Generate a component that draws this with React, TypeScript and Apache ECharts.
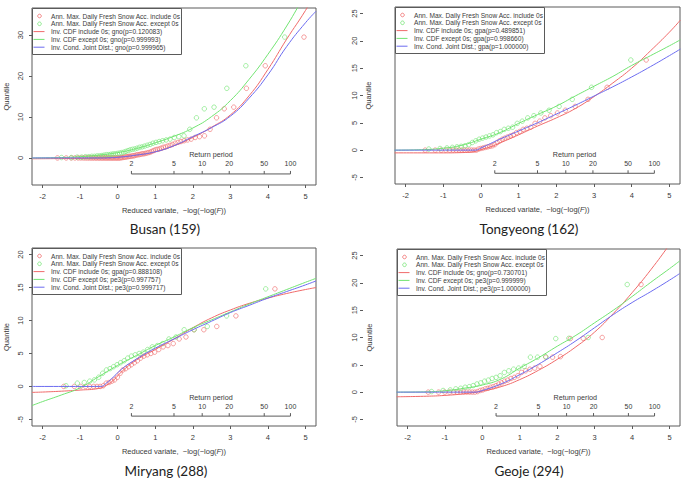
import React, { useEffect, useRef } from "react";
import * as echarts from "echarts";

// ---- shared axis values ----
const xTicks = [-2, -1, 0, 1, 2, 3, 4, 5];
const returnPeriods = [2, 5, 10, 20, 50, 100];

// ---- Busan (159) ----
const busanZeroYears = 32;
const busanSnow = [
  0.1, 0.1, 0.2, 0.2, 0.3, 0.3, 0.4, 0.4, 0.5, 0.5,
  0.6, 0.7, 0.8, 0.8, 0.9, 1.0, 1.0, 1.1, 1.2, 1.3,
  1.4, 1.6, 1.8, 2.0, 2.1, 2.2, 2.4, 2.6, 2.7, 2.9,
  3.1, 3.3, 3.6, 3.8, 4.0, 4.2, 4.4, 4.6, 5.0, 5.2,
  5.4, 7.0, 9.8, 12.0, 12.4, 17.0, 22.5, 29.5,
];
const busanFitInclude = [
  [-2.28, -0.2], [-1.5, -0.15], [-1, -0.1], [-0.5, 0.0], [0, 0.2], [0.5, 0.7], [1, 1.5], [1.5, 3.0],
  [2, 5.0], [2.5, 7.5], [3, 10.5], [3.5, 15.2], [4, 21.6], [4.5, 29.0], [5, 36.0], [5.28, 40.5],
];
const busanFitExcept = [
  [-2.28, 0.0], [-1.5, 0.1], [-1, 0.3], [-0.5, 0.7], [0, 1.3], [0.5, 2.3], [1, 3.7], [1.5, 5.3],
  [2, 7.3], [2.5, 10.1], [3, 14.0], [3.5, 19.2], [4, 25.3], [4.5, 32.2], [5, 40.0], [5.28, 44.0],
];
const busanFitJoint = [
  [-2.28, 0], [-0.4, 0], [-0.2, 0.05], [0, 0.15], [0.5, 0.7], [1, 1.5], [1.5, 3.0], [2, 5.2],
  [2.5, 7.4], [3, 10.2], [3.5, 14.6], [4, 20.3], [4.5, 27.2], [5, 33.0], [5.28, 35.8],
];
const busanYTicks = [0, 10, 20, 30];
const busanLegend = [
  "Ann. Max. Daily Fresh Snow Acc. include 0s",
  "Ann. Max. Daily Fresh Snow Acc. except 0s",
  "Inv. CDF include 0s; gno(p=0.120083)",
  "Inv. CDF except 0s; gno(p=0.999993)",
  "Inv. Cond. Joint Dist.; gno(p=0.999965)",
];

// ---- Tongyeong (162) ----
const tongyeongZeroYears = 15;
const tongyeongSnow = [
  0.2, 0.3, 0.4, 0.5, 0.6, 0.7, 0.8, 1.0, 1.4, 1.7,
  2.0, 2.2, 2.4, 2.6, 2.8, 3.2, 3.4, 3.8, 4.0, 4.2,
  4.9, 5.3, 5.9, 6.3, 6.8, 7.3, 8.0, 9.3, 11.5, 16.5,
];
const tongyeongFitInclude = [
  [-2.29, -0.5], [-1, -0.5], [-0.5, -0.45], [-0.2, -0.3], [0, 0.1], [0.25, 0.6], [0.5, 1.3], [1, 2.8],
  [1.5, 4.4], [2, 5.9], [2.5, 7.6], [3, 9.8], [3.5, 12.3], [4, 15.0], [4.5, 18.2], [5, 21.6], [5.29, 23.8],
];
const tongyeongFitExcept = [
  [-2.29, 0.0], [-1.5, 0.1], [-1, 0.35], [-0.5, 0.9], [0, 2.0], [0.5, 3.2], [1, 4.9], [1.5, 6.5],
  [2, 8.05], [2.5, 9.9], [3, 11.7], [3.5, 13.5], [4, 15.5], [4.5, 17.3], [5, 19.1], [5.29, 20.2],
];
const tongyeongFitJoint = [
  [-2.29, 0], [-0.15, 0], [0, 0.4], [0.5, 2.0], [1, 3.5], [1.5, 5.0], [2, 6.6], [2.5, 8.2],
  [3, 9.9], [3.5, 11.6], [4, 13.4], [4.5, 15.3], [5, 17.3], [5.29, 18.5],
];
const tongyeongYTicks = [-5, 0, 5, 10, 15, 20, 25];
const tongyeongLegend = [
  "Ann. Max. Daily Fresh Snow Acc. include 0s",
  "Ann. Max. Daily Fresh Snow Acc. except 0s",
  "Inv. CDF include 0s; gpa(p=0.489851)",
  "Inv. CDF except 0s; gpa(p=0.998660)",
  "Inv. Cond. Joint Dist.; gpa(p=1.000000)",
];

// ---- Miryang (288) ----
const miryangZeroYears = 8;
const miryangSnow = [
  0.1, 0.5, 0.6, 0.8, 1.0, 1.4, 2.0, 2.5, 2.7, 3.0,
  3.3, 3.6, 3.9, 4.3, 4.6, 4.8, 5.0, 5.2, 5.6, 6.0,
  6.2, 6.5, 7.2, 7.5, 8.6, 8.6, 9.1, 10.7, 14.8,
];
const miryangFitInclude = [
  [-2.28, -0.9], [-2, -0.85], [-1.5, -0.72], [-1, -0.55], [-0.5, -0.3], [-0.3, 0.2], [-0.1, 1.0],
  [0.1, 2.2], [0.5, 4.0], [1, 5.6], [1.5, 7.2], [2, 8.9], [2.5, 10.4], [3, 11.6], [3.5, 12.6],
  [4, 13.4], [4.5, 14.1], [5, 14.7], [5.28, 15.0],
];
const miryangFitExcept = [
  [-2.28, -2.9], [-2, -2.3], [-1.5, -1.3], [-1, -0.2], [-0.5, 1.5], [0, 3.2], [0.5, 4.7], [1, 6.2],
  [1.5, 7.5], [2, 8.9], [2.5, 10.1], [3, 11.3], [3.5, 12.5], [4, 13.6], [4.5, 14.7], [5, 15.8], [5.28, 16.4],
];
const miryangFitJoint = [
  [-2.28, 0], [-0.45, 0], [-0.3, 0.5], [-0.1, 1.5], [0.1, 2.6], [0.4, 3.8], [1, 5.8], [1.5, 7.2],
  [2, 8.6], [2.5, 9.9], [3, 11.2], [3.5, 12.3], [4, 13.4], [4.5, 14.4], [5, 15.4], [5.28, 16.0],
];
const miryangYTicks = [-5, 0, 5, 10, 15, 20];
const miryangLegend = [
  "Ann. Max. Daily Fresh Snow Acc. include 0s",
  "Ann. Max. Daily Fresh Snow Acc. except 0s",
  "Inv. CDF include 0s; gpa(p=0.888108)",
  "Inv. CDF except 0s; pe3(p=0.997757)",
  "Inv. Cond. Joint Dist.; pe3(p=0.999717)",
];

// ---- Geoje (294) ----
const geojeZeroYears = 12;
const geojeSnow = [
  0.1, 0.3, 0.4, 0.6, 0.7, 0.9, 1.0, 1.2, 1.5, 1.7,
  2.0, 2.2, 2.5, 2.7, 3.0, 3.6, 3.9, 4.2, 4.4, 4.7,
  6.4, 6.4, 6.5, 9.8, 9.85, 10.0, 19.7,
];
const geojeFitInclude = [
  [-2.29, -0.85], [-1.5, -0.75], [-1, -0.6], [-0.5, -0.3], [0, 0.2], [0.5, 1.0], [1, 2.3], [1.5, 4.0],
  [2, 6.0], [2.5, 8.3], [3, 11.0], [3.5, 14.4], [4, 18.2], [4.5, 22.4], [5, 27.0], [5.27, 29.6],
];
const geojeFitExcept = [
  [-2.29, 0.0], [-1.5, 0.05], [-1, 0.25], [-0.5, 0.7], [0, 1.3], [0.5, 2.4], [1, 4.4], [1.5, 6.3],
  [2, 8.4], [2.5, 10.4], [3, 12.7], [3.5, 15.0], [4, 17.5], [4.5, 20.1], [5, 22.6], [5.27, 24.0],
];
const geojeFitJoint = [
  [-2.29, 0], [-0.2, 0], [0, 0.3], [0.5, 1.5], [1, 3.2], [1.5, 5.1], [2, 7.2], [2.5, 9.4],
  [3, 11.8], [3.5, 14.2], [4, 16.4], [4.5, 18.4], [5, 20.5], [5.27, 21.7],
];
const geojeYTicks = [-5, 0, 5, 10, 15, 20, 25];
const geojeLegend = [
  "Ann. Max. Daily Fresh Snow Acc. include 0s",
  "Ann. Max. Daily Fresh Snow Acc. except 0s",
  "Inv. CDF include 0s; gno(p=0.730701)",
  "Inv. CDF except 0s; pe3(p=0.999999)",
  "Inv. Cond. Joint Dist.; pe3(p=1.000000)",
];

// ---- styling ----
const FONT = '"Liberation Sans", Arial, Helvetica, sans-serif';
const CAPTION_FONT = 'Lato, "Noto Sans", sans-serif';
const RED = "#f06a6a";
const GREEN = "#72e472";
const BLUE = "#6c6cf0";
const FRAME = "#5a5a5a";
const TEXT = "#3a3a3a";

const stations = [
  {
    caption: "Busan (159)", zeros: busanZeroYears, snow: busanSnow,
    fits: [busanFitInclude, busanFitExcept, busanFitJoint], legend: busanLegend,
    yMin: -6.6, yMax: 36.6, yTicks: busanYTicks, rpLevel: -3.9,
    box: { left: 32, top: 8, width: 284, height: 177 }, yOffset: 0, titleX: 6,
    capX: 165, capY: 229,
  },
  {
    caption: "Tongyeong (162)", zeros: tongyeongZeroYears, snow: tongyeongSnow,
    fits: [tongyeongFitInclude, tongyeongFitExcept, tongyeongFitJoint], legend: tongyeongLegend,
    yMin: -6.2, yMax: 26.2, yTicks: tongyeongYTicks, rpLevel: -4.24,
    box: { left: 395, top: 7, width: 285, height: 177 }, yOffset: 32, titleX: 368,
    capX: 529, capY: 229,
  },
  {
    caption: "Miryang (288)", zeros: miryangZeroYears, snow: miryangSnow,
    fits: [miryangFitInclude, miryangFitExcept, miryangFitJoint], legend: miryangLegend,
    yMin: -6, yMax: 21, yTicks: miryangYTicks, rpLevel: -4.5,
    box: { left: 32, top: 248, width: 284, height: 178 }, yOffset: 0, titleX: 6,
    capX: 166, capY: 471,
  },
  {
    caption: "Geoje (294)", zeros: geojeZeroYears, snow: geojeSnow,
    fits: [geojeFitInclude, geojeFitExcept, geojeFitJoint], legend: geojeLegend,
    yMin: -6.2, yMax: 26.2, yTicks: geojeYTicks, rpLevel: -4.38,
    box: { left: 397, top: 249, width: 283, height: 177 }, yOffset: 34, titleX: 369,
    capX: 529, capY: 471,
  },
];

// Gringorten plotting position expressed as a Gumbel reduced variate
function reducedVariate(rank: number, n: number): number {
  const F = (rank - 0.44) / (n + 0.12);
  return -Math.log(-Math.log(F));
}

// Reduced variate of a return period T (years)
function returnPeriodVariate(T: number): number {
  return -Math.log(-Math.log(1 - 1 / T));
}

function samplePoints(zeros: number, values: number[]): number[][] {
  const sample = [...new Array(zeros).fill(0), ...values];
  return sample.map((v, i) => [reducedVariate(i + 1, sample.length), v]);
}

function legendGroup(box: { left: number; top: number }, labels: string[]) {
  const colors = [RED, GREEN, RED, GREEN, BLUE];
  const children: any[] = [
    {
      type: "rect",
      shape: { x: 0.5, y: 0.5, width: 149, height: 46 },
      style: { fill: "#fff", stroke: FRAME, lineWidth: 1 },
    },
  ];
  labels.forEach((label, k) => {
    const cy = 8 + k * 7.8;
    if (k < 2) {
      children.push({
        type: "circle",
        shape: { cx: 7.5, cy, r: 1.8 },
        style: { fill: "none", stroke: colors[k], lineWidth: 0.8 },
      });
    } else {
      children.push({
        type: "line",
        shape: { x1: 1.5, y1: cy, x2: 12.5, y2: cy },
        style: { stroke: colors[k], lineWidth: 1 },
      });
    }
    children.push({
      type: "text",
      x: 19,
      y: cy,
      style: {
        text: label, fontSize: 6.6, fontFamily: FONT, fill: TEXT,
        verticalAlign: "middle", align: "left",
      },
    });
  });
  return { type: "group", x: box.left, y: box.top, z: 100, children };
}

function buildOption() {
  const grid: any[] = [];
  const xAxis: any[] = [];
  const yAxis: any[] = [];
  const series: any[] = [];
  const graphic: any[] = [];

  stations.forEach((st, i) => {
    grid.push({
      ...st.box,
      show: true,
      borderColor: FRAME,
      borderWidth: 1,
      backgroundColor: "transparent",
    });
    xAxis.push({
      type: "value",
      gridIndex: i,
      min: -2.28,
      max: 5.28,
      axisLine: { show: false, onZero: false },
      splitLine: { show: false },
      axisTick: { show: true, length: 3, customValues: xTicks, lineStyle: { color: FRAME } },
      axisLabel: { customValues: xTicks, fontSize: 7.5, fontFamily: FONT, color: TEXT, margin: 7 },
      name: "Reduced variate,  \u2212log(\u2212log({i|F}))",
      nameLocation: "middle",
      nameGap: 21,
      nameTextStyle: {
        fontSize: 7.5, fontFamily: FONT, color: TEXT,
        rich: { i: { fontStyle: "italic", fontSize: 7.5, fontFamily: FONT, color: TEXT } },
      },
    });
    yAxis.push({
      type: "value",
      gridIndex: i,
      min: st.yMin,
      max: st.yMax,
      offset: st.yOffset,
      axisLine: { show: false, onZero: false },
      splitLine: { show: false },
      axisTick: { show: true, length: 3, customValues: st.yTicks, lineStyle: { color: FRAME } },
      axisLabel: {
        customValues: st.yTicks, rotate: 90, fontSize: 7.5, fontFamily: FONT, color: TEXT,
        margin: st.yOffset ? 4.5 : 8,
      },
    });

    const common = { xAxisIndex: i, yAxisIndex: i, silent: true };
    series.push({
      ...common,
      type: "scatter",
      name: st.legend[0],
      data: samplePoints(st.zeros, st.snow),
      symbol: "circle",
      symbolSize: 4.5,
      itemStyle: { color: "transparent", borderColor: RED, borderWidth: 0.8 },
    });
    series.push({
      ...common,
      type: "scatter",
      name: st.legend[1],
      data: samplePoints(0, st.snow),
      symbol: "circle",
      symbolSize: 4.5,
      itemStyle: { color: "transparent", borderColor: GREEN, borderWidth: 0.8 },
    });
    [RED, GREEN, BLUE].forEach((color, k) => {
      series.push({
        ...common,
        type: "line",
        name: st.legend[k + 2],
        data: st.fits[k],
        smooth: 0.5,
        showSymbol: false,
        symbol: "none",
        clip: true,
        lineStyle: { color, width: 1 },
      });
    });

    // Return-period scale drawn inside the plot region
    const rpLevel = st.rpLevel;
    series.push({
      ...common,
      type: "line",
      data: [
        [returnPeriodVariate(returnPeriods[0]), rpLevel],
        [returnPeriodVariate(returnPeriods[returnPeriods.length - 1]), rpLevel],
      ],
      showSymbol: false,
      symbol: "none",
      lineStyle: { color: FRAME, width: 1 },
    });
    series.push({
      ...common,
      type: "custom",
      data: returnPeriods.map((T) => [returnPeriodVariate(T), rpLevel, T]),
      renderItem: (params: any, api: any) => {
        const p = api.coord([api.value(0), api.value(1)]);
        const children: any[] = [
          {
            type: "line",
            shape: { x1: p[0], y1: p[1], x2: p[0], y2: p[1] - 3 },
            style: { stroke: FRAME, lineWidth: 1 },
          },
          {
            type: "text",
            x: p[0],
            y: p[1] - 10,
            style: {
              text: String(api.value(2)), fontSize: 7, fontFamily: FONT, fill: TEXT,
              align: "center", verticalAlign: "middle",
            },
          },
        ];
        if (params.dataIndex === 0) {
          const lo = returnPeriodVariate(returnPeriods[0]);
          const hi = returnPeriodVariate(returnPeriods[returnPeriods.length - 1]);
          const mid = api.coord([(lo + hi) / 2, rpLevel]);
          children.push({
            type: "text",
            x: mid[0],
            y: mid[1] - 19,
            style: {
              text: "Return period", fontSize: 7.2, fontFamily: FONT, fill: TEXT,
              align: "center", verticalAlign: "middle",
            },
          });
        }
        return { type: "group", children };
      },
    });

    graphic.push(legendGroup(st.box, st.legend));
    // y-axis title
    graphic.push({
      type: "text",
      x: st.titleX,
      y: st.box.top + st.box.height / 2,
      rotation: Math.PI / 2,
      z: 100,
      style: {
        text: "Quantile", fontSize: 7.5, fontFamily: FONT, fill: TEXT,
        align: "center", verticalAlign: "middle",
      },
    });
    graphic.push({
      type: "text",
      x: st.capX,
      y: st.capY,
      z: 100,
      style: {
        text: st.caption, fontSize: 13.5, fontFamily: CAPTION_FONT, fill: "#222",
        align: "center", verticalAlign: "middle",
      },
    });
  });

  return {
    animation: false,
    backgroundColor: "#fff",
    grid,
    xAxis,
    yAxis,
    series,
    graphic,
  };
}

export default function App() {
  const ref = useRef<HTMLDivElement>(null);
  useEffect(() => {
    if (!ref.current) return;
    const chart = echarts.init(ref.current, undefined, { renderer: "svg" });
    chart.setOption(buildOption());
    return () => chart.dispose();
  }, []);
  return (
    <div
      ref={ref}
      style={{ position: "fixed", left: 0, top: 0, width: 682, height: 483, background: "#fff" }}
    />
  );
}
